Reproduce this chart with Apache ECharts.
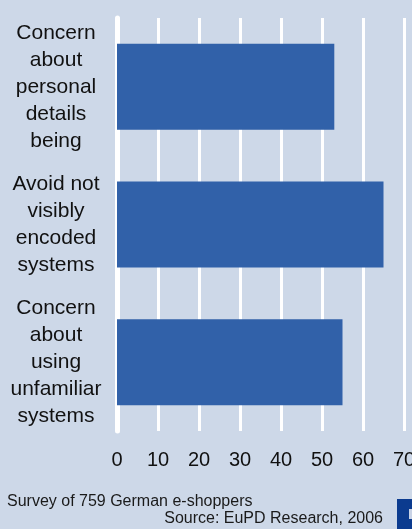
<!DOCTYPE html>
<html>
<head>
<meta charset="utf-8">
<style>
  html, body { margin: 0; padding: 0; background: #cdd8e8; }
  #chart { width: 412px; height: 529px; }
</style>
<script src="https://cdn.jsdelivr.net/npm/echarts@6/dist/echarts.min.js"></script>
</head>
<body>
<div id="chart"></div>
<script>
// Reasons given by e-shoppers, share in percent
var categories = [
  'Concern\nabout\npersonal\ndetails\nbeing',
  'Avoid not\nvisibly\nencoded\nsystems',
  'Concern\nabout\nusing\nunfamiliar\nsystems'
];
var shares = [53, 65, 55];
var xTicks = [0, 10, 20, 30, 40, 50, 60, 70];

var FONT = '"Liberation Sans", Arial, Helvetica, sans-serif';
var chart = echarts.init(document.getElementById('chart'));

chart.setOption({
  backgroundColor: '#cdd8e8',
  animation: false,
  grid: { left: 117, right: 8, top: 18, bottom: 98, containLabel: false, outerBoundsMode: 'none' },
  xAxis: {
    type: 'value',
    min: xTicks[0],
    max: xTicks[xTicks.length - 1],
    interval: xTicks[1] - xTicks[0],
    axisLine: { show: false },
    axisTick: { show: false },
    splitLine: { show: true, lineStyle: { color: '#ffffff', width: 3 } },
    axisLabel: { fontFamily: FONT, fontSize: 20, color: '#111111', margin: 19 }
  },
  yAxis: {
    type: 'category',
    inverse: true,
    data: categories,
    axisLine: { show: true, lineStyle: { color: '#ffffff', width: 5, cap: 'round' } },
    axisTick: { show: false },
    axisLabel: {
      fontFamily: FONT, fontSize: 21, lineHeight: 27, color: '#111111',
      align: 'center', margin: 61
    }
  },
  series: [{
    type: 'bar',
    data: shares,
    barWidth: '62.5%',
    itemStyle: { color: '#3161a9' }
  }],
  graphic: [
    {
      type: 'text', x: 7, y: 502,
      style: { text: 'Survey of 759 German e-shoppers', font: '16px ' + FONT, fill: '#1a1a1a', textVerticalAlign: 'middle' }
    },
    {
      type: 'text', x: 383, y: 519,
      style: { text: 'Source: EuPD Research, 2006', font: '16px ' + FONT, fill: '#1a1a1a', textAlign: 'right', textVerticalAlign: 'middle' }
    },
    {
      type: 'rect', shape: { x: 397, y: 499, width: 15, height: 30 },
      style: { fill: '#0b3b8f' }
    },
    {
      type: 'rect', shape: { x: 409, y: 509, width: 3, height: 10 },
      style: { fill: '#c9d3e6' }
    }
  ]
});
</script>
</body>
</html>
